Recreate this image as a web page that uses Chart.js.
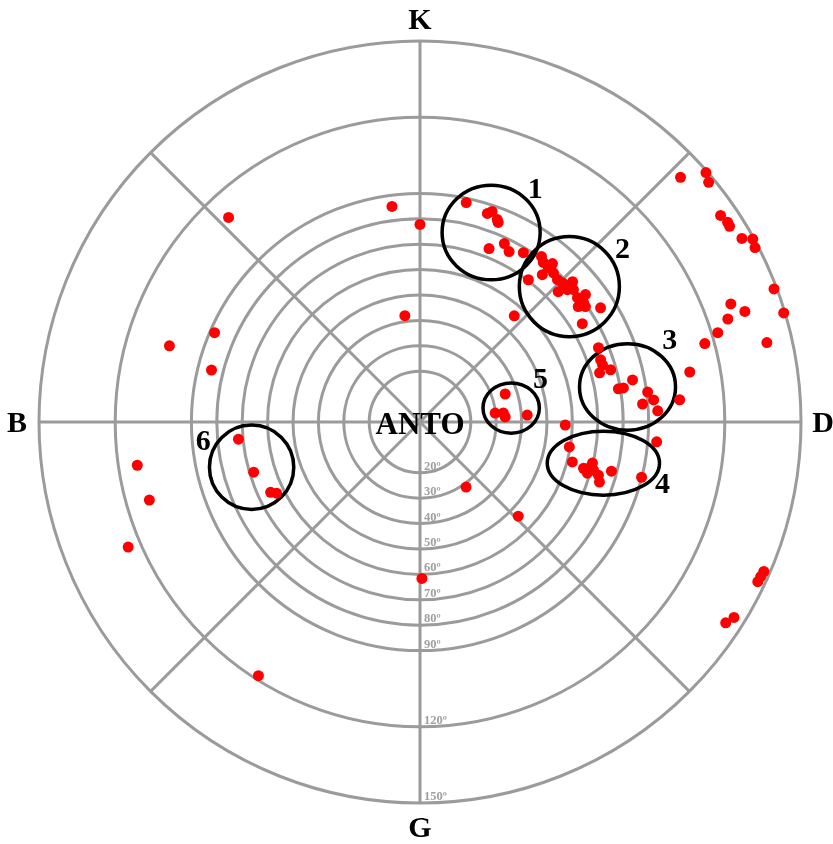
<!DOCTYPE html>
<html>
<head>
<meta charset="utf-8">
<script src="https://cdn.jsdelivr.net/npm/chart.js@4"></script>
<style>
  html, body { margin: 0; padding: 0; background: #fff; }
  #wrap { width: 833px; height: 844px; position: relative; }
</style>
</head>
<body>
<div id="wrap"><canvas id="sky"></canvas></div>
<script>
// Station name drawn at the pole
const STATION = 'ANTO';

// Compass labels, clockwise from the top
const DIRECTION_LABELS = ['K', 'D', 'G', 'B'];

// Zenith-angle rings (degrees) and their labels
const RING_TICKS = [20, 30, 40, 50, 60, 70, 80, 90, 120, 150];

// Observations: azimuth (deg, clockwise from K) and zenith angle (deg)
const AZIMUTH = [
  316.9, 352.6, 0.0, 351.9, 293.5, 286.9, 284.0,
  261.3, 253.9, 246.8, 264.6, 253.2, 244.8, 243.6, 212.5, 179.3, 144.7, 133.8,
  71.8, 83.2, 83.8, 86.6, 86.3,
  11.9, 17.9, 18.9, 20.9, 21.4, 21.7, 25.3, 27.6, 31.4, 41.6,
  36.3, 37.7, 39.9, 37.3, 39.7, 41.8, 44.0, 45.6, 47.4, 46.7, 48.1, 49.2, 51.7,
  52.4, 53.9, 55.1, 53.9, 57.7, 58.8, 39.7, 46.8,
  67.4, 71.0, 72.6, 74.7, 74.7, 78.8, 80.5, 80.5, 82.5, 84.6, 85.4, 87.3, 85.1,
  79.5, 74.6, 91.2, 94.8,
  99.5, 104.7, 105.8, 103.4, 105.5, 107.0, 106.6, 108.5, 104.4, 104.0, 104.8,
  46.8, 48.9, 50.3, 55.5, 57.0, 57.7, 60.3, 61.2, 62.5, 69.4, 73.3,
  69.2, 71.2, 71.5, 73.3, 77.1,
  113.5, 114.4, 115.3, 121.9, 123.3
];
const ZENITH = [
  110.3, 85.6, 77.8, 42.3, 88.2, 103.1, 84.6,
  112.6, 110.9, 125.0, 71.8, 68.4, 65.0, 63.0, 118.4, 61.6, 31.4, 53.6,
  35.3, 29.8, 33.0, 33.6, 42.3,
  88.3, 86.3, 87.6, 85.3, 84.4, 73.5, 77.7, 75.7, 78.1, 55.9,
  80.8, 79.4, 81.3, 70.4, 75.4, 78.8, 77.9, 78.4, 81.6, 74.8, 78.0, 79.8, 79.0,
  82.2, 77.1, 79.4, 79.7, 84.1, 74.7, 79.0, 78.5,
  76.1, 75.2, 75.3, 73.3, 77.8, 85.3, 79.2, 81.2, 90.4, 92.4, 87.9, 93.7, 102.6,
  108.0, 116.3, 57.2, 93.5,
  59.6, 62.0, 66.9, 69.8, 70.9, 68.9, 73.3, 74.5, 77.8, 89.9, 69.4,
  140.7, 149.4, 147.7, 143.6, 144.4, 144.2, 145.9, 149.5, 148.7, 148.9, 149.5,
  130.9, 135.1, 127.8, 122.4, 140.1,
  147.6, 147.3, 147.1, 145.6, 144.0
];

// Numbered groups: ellipse centre and radii in zenith-degree units (east, north)
const GROUP_IDS = ['1', '2', '3', '4', '5', '6'];
const GROUP_CENTER_E = [28.0, 58.8, 81.7, 72.2, 35.9, -66.3];
const GROUP_CENTER_N = [74.6, 53.3, 13.8, -16.2, 5.5, -17.8];
const GROUP_RADIUS_E = [19.3, 19.7, 18.9, 22.1, 11.1, 16.6];
const GROUP_RADIUS_N = [18.6, 19.7, 17.0, 12.6, 9.9, 16.6];
const GROUP_LABEL_E = [45.4, 79.7, 98.3, 95.5, 47.4, -85.3];
const GROUP_LABEL_N = [91.6, 67.9, 32.0, -24.5, 17.0, -7.5];

const R_MAX = 150;
const toRad = d => d * Math.PI / 180;

const points = AZIMUTH.map((az, i) => ({
  x: ZENITH[i] * Math.sin(toRad(az)),
  y: ZENITH[i] * Math.cos(toRad(az))
}));

const GRID = '#9b9b9b';
const SERIF = '"Liberation Serif", "Times New Roman", serif';

const polarDecor = {
  id: 'polarDecor',
  beforeDatasetsDraw(chart) {
    const { ctx, scales: { x, y } } = chart;
    const cx = x.getPixelForValue(0), cy = y.getPixelForValue(0);
    const pxPerDeg = x.getPixelForValue(1) - cx;
    ctx.save();
    ctx.strokeStyle = GRID;
    ctx.lineWidth = 3;
    // rings
    RING_TICKS.forEach(t => {
      ctx.beginPath();
      ctx.arc(cx, cy, t * pxPerDeg, 0, Math.PI * 2);
      ctx.stroke();
    });
    // spokes every 45 degrees
    for (let k = 0; k < 8; k++) {
      const a = toRad(k * 45);
      ctx.beginPath();
      ctx.moveTo(cx, cy);
      ctx.lineTo(x.getPixelForValue(R_MAX * Math.sin(a)), y.getPixelForValue(R_MAX * Math.cos(a)));
      ctx.stroke();
    }
    // ring labels along the lower spoke
    ctx.fillStyle = '#a0a0a0';
    ctx.font = 'bold 12.5px ' + SERIF;
    ctx.textAlign = 'left';
    ctx.textBaseline = 'alphabetic';
    RING_TICKS.forEach(t => {
      ctx.fillText(t + 'º', cx + 4, y.getPixelForValue(-t) - 3);
    });
    // station name at the pole
    ctx.fillStyle = '#000';
    ctx.font = 'bold 31px ' + SERIF;
    ctx.textAlign = 'center';
    ctx.textBaseline = 'middle';
    ctx.fillText(STATION, cx, cy + 4);
    // group ellipses
    ctx.strokeStyle = '#000';
    ctx.lineWidth = 3.5;
    GROUP_IDS.forEach((g, i) => {
      const ex = x.getPixelForValue(GROUP_CENTER_E[i]);
      const ey = y.getPixelForValue(GROUP_CENTER_N[i]);
      const rx = GROUP_RADIUS_E[i] * pxPerDeg;
      const ry = GROUP_RADIUS_N[i] * pxPerDeg;
      ctx.beginPath();
      ctx.ellipse(ex, ey, rx, ry, 0, 0, Math.PI * 2);
      ctx.stroke();
    });
    ctx.restore();
  },
  afterDatasetsDraw(chart) {
    const { ctx, scales: { x, y } } = chart;
    const cx = x.getPixelForValue(0), cy = y.getPixelForValue(0);
    const R = x.getPixelForValue(R_MAX) - cx;
    ctx.save();
    ctx.fillStyle = '#000';
    ctx.textAlign = 'center';
    ctx.textBaseline = 'middle';
    ctx.font = 'bold 30px ' + SERIF;
    // group numbers
    GROUP_IDS.forEach((g, i) => {
      ctx.fillText(g, x.getPixelForValue(GROUP_LABEL_E[i]), y.getPixelForValue(GROUP_LABEL_N[i]) + 1);
    });
    // compass labels outside the outer ring
    const off = [R + 22, R + 22, R + 24, R + 22];
    DIRECTION_LABELS.forEach((lab, k) => {
      const a = toRad(k * 90);
      ctx.fillText(lab, cx + off[k] * Math.sin(a), cy - off[k] * Math.cos(a) + 2);
    });
    ctx.restore();
  }
};

new Chart(document.getElementById('sky'), {
  type: 'scatter',
  data: {
    datasets: [{
      data: points,
      backgroundColor: '#ff0000',
      borderWidth: 0,
      pointRadius: 5.5,
      pointHoverRadius: 5.5
    }]
  },
  options: {
    responsive: true,
    maintainAspectRatio: false,
    animation: false,
    layout: { padding: { left: 39, right: 32, top: 41, bottom: 41 } },
    scales: {
      x: { type: 'linear', min: -R_MAX, max: R_MAX, display: false },
      y: { type: 'linear', min: -R_MAX, max: R_MAX, display: false }
    },
    plugins: { legend: { display: false }, tooltip: { enabled: false } }
  },
  plugins: [polarDecor]
});
</script>
</body>
</html>
